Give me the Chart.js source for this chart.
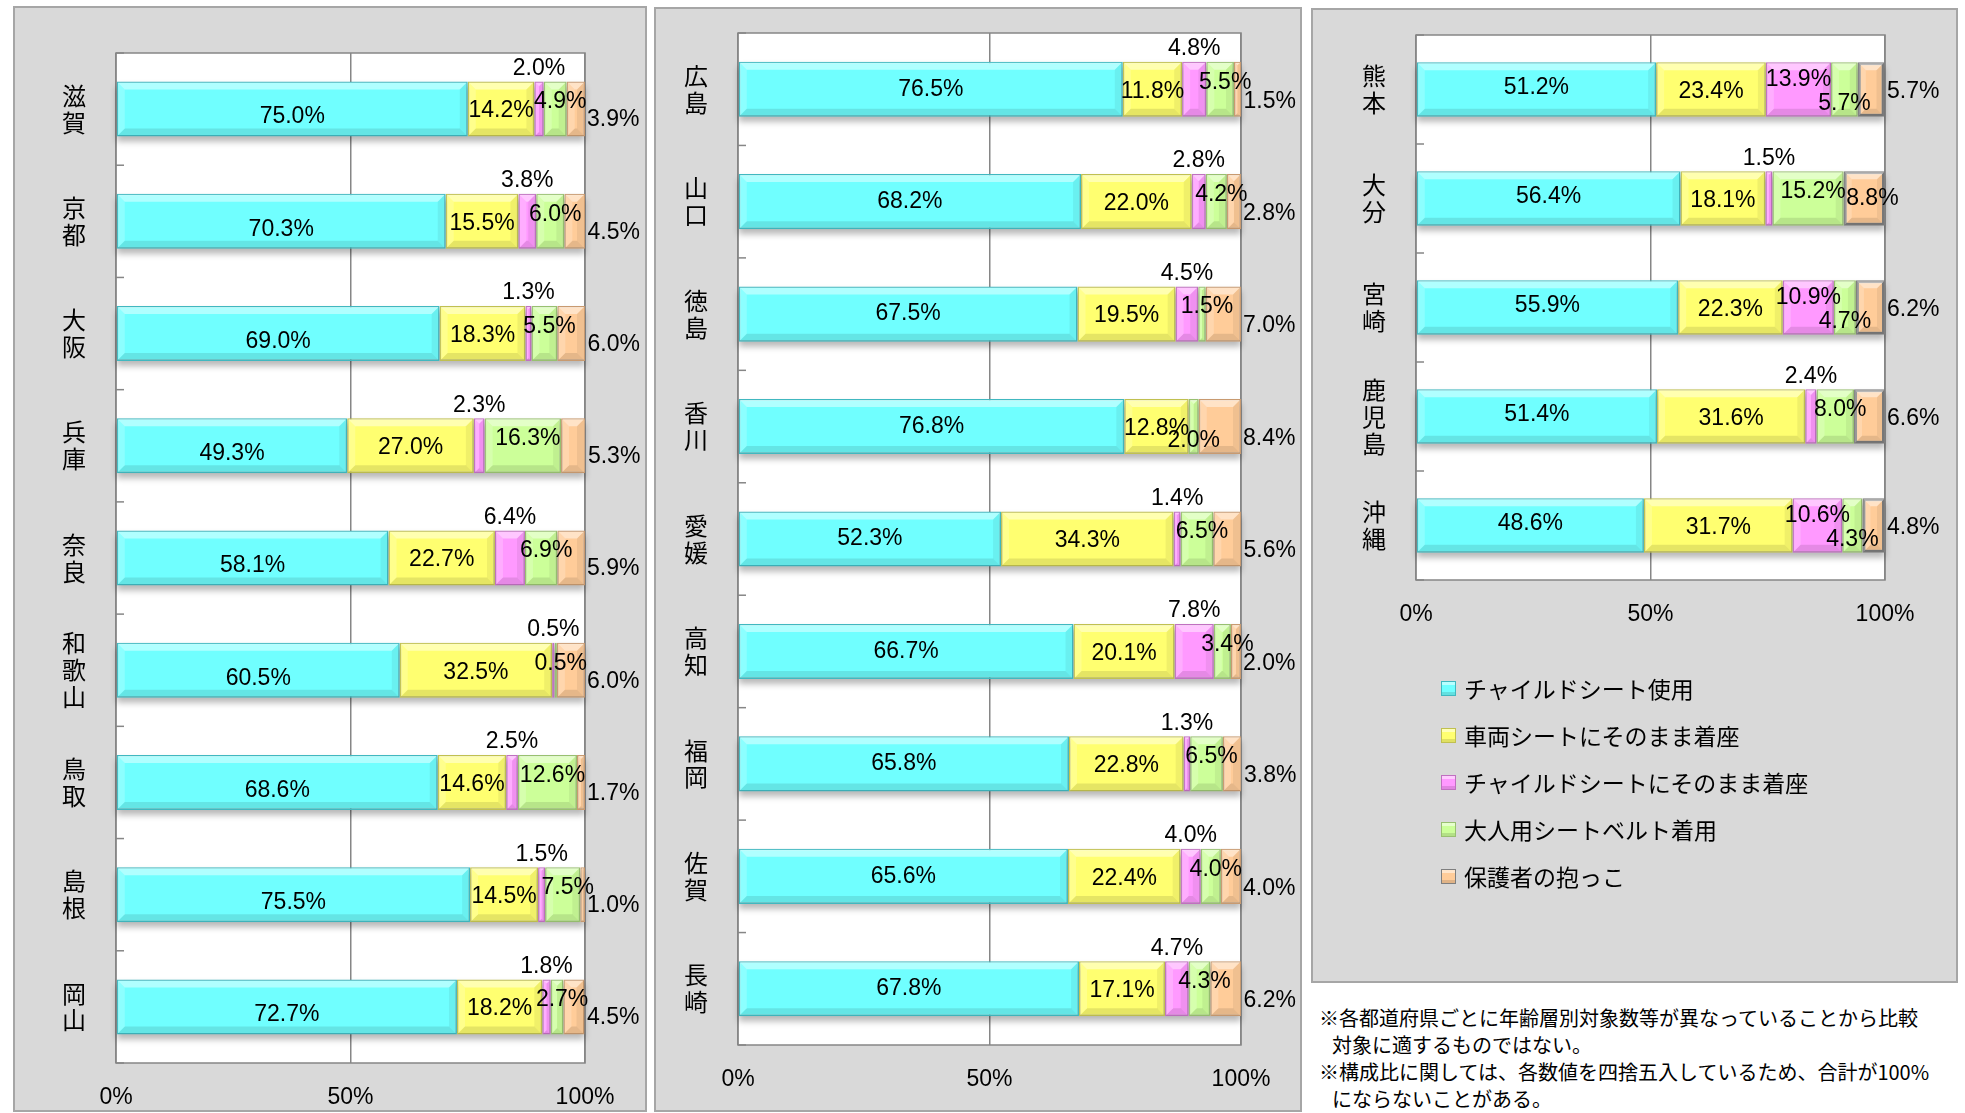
<!DOCTYPE html>
<html lang="ja">
<head>
<meta charset="utf-8">
<title>チャイルドシート使用状況（都道府県別）</title>
<script src="https://cdn.jsdelivr.net/npm/chart.js@4/dist/chart.umd.min.js"></script>
<style>
    body { margin: 0; width: 1965px; height: 1113px; background: #fff; overflow: hidden; position: relative;
           font-family: "Noto Sans CJK JP", "Liberation Sans", sans-serif; }
    .panel { position: absolute; background: #d9d9d9; border: 2px solid #a6a6a6; box-sizing: border-box; }
    .plot { position: absolute; inset: 0; }
    #p1 { left: 13px; top: 6px; width: 634px; height: 1106px; }
    #p2 { left: 654px; top: 7px; width: 648px; height: 1105px; }
    #p3 { left: 1311px; top: 8px; width: 647px; height: 975px; }
    #legend { position: absolute; left: 128px; top: 655px; margin: 0; padding: 0; list-style: none; }
    #legend li { height: 47px; line-height: 47px; font-size: 23px; color: #000; display: flex; align-items: center; }
    #legend i { display: inline-block; width: 13px; height: 13px; margin-right: 8px; border: 1px solid;
                box-shadow: inset 0 3px 0 rgba(255,255,255,0.5), inset 0 -3px 0 rgba(0,0,0,0.12); }
    #note { position: absolute; left: 1319px; top: 1004px; font-size: 20px; line-height: 27px; color: #000; }
    #note .cont { padding-left: 13px; }
</style>
</head>
<body>
<div class="panel" id="p1"><div class="plot"><canvas id="c1"></canvas></div></div>
<div class="panel" id="p2"><div class="plot"><canvas id="c2"></canvas></div></div>
<div class="panel" id="p3"><div class="plot"><canvas id="c3"></canvas></div><ul id="legend"></ul></div>
<div id="note"></div>

<script>
const seriesNames = ['チャイルドシート使用', '車両シートにそのまま着座', 'チャイルドシートにそのまま着座', '大人用シートベルト着用', '保護者の抱っこ']
const xTicks = [0, 50, 100]

// 滋賀〜岡山
const prefs1 = ['滋賀', '京都', '大阪', '兵庫', '奈良', '和歌山', '鳥取', '島根', '岡山']
const childSeat1 = [75.0, 70.3, 69.0, 49.3, 58.1, 60.5, 68.6, 75.5, 72.7]
const vehicleSeat1 = [14.2, 15.5, 18.3, 27.0, 22.7, 32.5, 14.6, 14.5, 18.2]
const childSeatOnly1 = [2.0, 3.8, 1.3, 2.3, 6.4, 0.5, 2.5, 1.5, 1.8]
const adultBelt1 = [4.9, 6.0, 5.5, 16.3, 6.9, 0.5, 12.6, 7.5, 2.7]
const heldByParent1 = [3.9, 4.5, 6.0, 5.3, 5.9, 6.0, 1.7, 1.0, 4.5]

// 広島〜長崎
const prefs2 = ['広島', '山口', '徳島', '香川', '愛媛', '高知', '福岡', '佐賀', '長崎']
const childSeat2 = [76.5, 68.2, 67.5, 76.8, 52.3, 66.7, 65.8, 65.6, 67.8]
const vehicleSeat2 = [11.8, 22.0, 19.5, 12.8, 34.3, 20.1, 22.8, 22.4, 17.1]
const childSeatOnly2 = [4.8, 2.8, 4.5, null, 1.4, 7.8, 1.3, 4.0, 4.7]
const adultBelt2 = [5.5, 4.2, 1.5, 2.0, 6.5, 3.4, 6.5, 4.0, 4.3]
const heldByParent2 = [1.5, 2.8, 7.0, 8.4, 5.6, 2.0, 3.8, 4.0, 6.2]

// 熊本〜沖縄
const prefs3 = ['熊本', '大分', '宮崎', '鹿児島', '沖縄']
const childSeat3 = [51.2, 56.4, 55.9, 51.4, 48.6]
const vehicleSeat3 = [23.4, 18.1, 22.3, 31.6, 31.7]
const childSeatOnly3 = [13.9, 1.5, 10.9, 2.4, 10.6]
const adultBelt3 = [5.7, 15.2, 4.7, 8.0, 4.3]
const heldByParent3 = [5.7, 8.8, 6.2, 6.6, 4.8]

const notes = [
    ['※各都道府県ごとに年齢層別対象数等が異なっていることから比較', '対象に適するものではない。'],
    ['※構成比に関しては、各数値を四捨五入しているため、合計が100%', 'にならないことがある。'],
]

;(() => {
    const fills = ['#70ffff', '#ffff70', '#ff99ff', '#ccff99', '#ffcc99']
    const edges = ['#40b8c0', '#c0c050', '#c070c0', '#98c070', '#c89a70']
    const numFont = '23px "Liberation Sans", Arial, sans-serif'

    // white plot area, frame, 50% line is the x grid, small inner ticks on the category axis
    const plotFrame = {
        id: 'plotFrame',
        beforeDraw: (chart) => {
            const { ctx, chartArea: a } = chart
            ctx.save()
            ctx.fillStyle = '#fff'
            ctx.fillRect(a.left, a.top, a.right - a.left, a.bottom - a.top)
            ctx.restore()
        },
        beforeDatasetsDraw: (chart) => {
            const { ctx, chartArea: a } = chart
            const y = chart.scales.y
            ctx.save()
            ctx.strokeStyle = '#868686'
            ctx.lineWidth = 1.5
            ctx.strokeRect(a.left, a.top, a.right - a.left, a.bottom - a.top)
            for (let i = 0; i <= chart.data.labels.length; i++) {
                const py = y.getPixelForValue(i - 0.5)
                ctx.beginPath()
                ctx.moveTo(a.left, py)
                ctx.lineTo(a.left + 8, py)
                ctx.stroke()
            }
            // soft shadow under each stacked bar
            const first = chart.getDatasetMeta(0).data
            const last = chart.getDatasetMeta(chart.data.datasets.length - 1).data
            ctx.filter = 'blur(3px)'
            ctx.fillStyle = 'rgba(0,0,0,0.28)'
            first.forEach((bar, i) => {
                const p = bar.getProps(['y', 'base', 'height'], true)
                const end = Math.min(last[i].getProps(['x'], true).x, a.right)
                ctx.fillRect(p.base, p.y - p.height / 2 + 5, end - p.base, p.height)
            })
            ctx.restore()
        },
    }

    const bevelAndLabels = {
        id: 'segLabels',
        afterDatasetsDraw: (chart, args, opts) => {
            const { ctx, chartArea: a } = chart
            const sets = chart.data.datasets
            ctx.save()
            // bevel facets
            sets.forEach((ds, di) => {
                chart.getDatasetMeta(di).data.forEach((bar, i) => {
                    if (!ds.data[i]) return
                    const p = bar.getProps(['x', 'y', 'base', 'height'], true)
                    const l = p.base + 1, r = Math.min(p.x, a.right) - 1
                    const t = p.y - p.height / 2 + 1, b = p.y + p.height / 2 - 1
                    const e = Math.max(0, Math.min(7, (r - l) / 2))
                    const facet = (pts, c) => {
                        ctx.beginPath()
                        pts.forEach(([px, py], k) => (k ? ctx.lineTo(px, py) : ctx.moveTo(px, py)))
                        ctx.closePath()
                        ctx.fillStyle = c
                        ctx.fill()
                    }
                    facet([[l, t], [r, t], [r - e, t + e], [l + e, t + e]], 'rgba(255,255,255,0.45)')
                    facet([[l, b], [r, b], [r - e, b - e], [l + e, b - e]], 'rgba(0,0,0,0.1)')
                    facet([[l, t], [l + e, t + e], [l + e, b - e], [l, b]], 'rgba(255,255,255,0.2)')
                    facet([[r, t], [r - e, t + e], [r - e, b - e], [r, b]], 'rgba(0,0,0,0.06)')
                })
            })
            // value labels
            ctx.font = numFont
            ctx.fillStyle = '#000'
            ctx.textBaseline = 'middle'
            sets.forEach((ds, di) => {
                chart.getDatasetMeta(di).data.forEach((bar, i) => {
                    const v = ds.data[i]
                    if (!v) return
                    const p = bar.getProps(['x', 'y', 'base', 'height'], true)
                    const mid = (p.x + p.base) / 2
                    const top = p.y - p.height / 2
                    const pink = sets[2].data[i]
                    let tx = mid, ty = p.y, align = 'center'
                    if (di === 0) ty = p.y + opts.firstDy
                    else if (di === 1) ty = p.y + 2
                    else if (di === 2) ty = v >= 10 ? p.y - 10 : top - 13
                    else if (di === 3) {
                        if (!pink || pink >= 10) ty = p.y + 14
                        else { tx = mid + 5; ty = p.y - 7 }
                    } else if (v >= 8.5) {
                        tx = mid + 8
                    } else {
                        tx = Math.max(p.x, a.right) + 2
                        ty = p.y + opts.lastDy
                        align = 'left'
                    }
                    ctx.textAlign = align
                    ctx.fillText(`${v.toFixed(1)}%`, tx, ty)
                })
            })
            ctx.restore()
        },
    }

    const makeChart = (id, names, series, look) => {
        new Chart(document.getElementById(id), {
            type: 'bar',
            data: {
                labels: names.map((n) => Array.from(n)),
                datasets: series.map((data, k) => ({
                    label: seriesNames[k],
                    data,
                    backgroundColor: fills[k],
                    borderColor: k === 4 && look.heldEdge ? look.heldEdge : edges[k],
                    borderWidth: k === 4 && look.heldEdge ? 3 : 1.5,
                    borderSkipped: false,
                    categoryPercentage: 1,
                    barPercentage: look.barPct,
                })),
            },
            options: {
                indexAxis: 'y',
                responsive: true,
                maintainAspectRatio: false,
                animation: false,
                layout: { padding: { left: 0, right: look.right, top: look.top, bottom: 0 } },
                scales: {
                    x: {
                        stacked: true,
                        min: 0,
                        max: 100,
                        afterBuildTicks: (s) => { s.ticks = xTicks.map((value) => ({ value })) },
                        ticks: { callback: (v) => `${v}%`, color: '#000', font: { family: '"Liberation Sans", Arial', size: 23 }, padding: 21 },
                        grid: { color: '#868686', lineWidth: 1.5, drawTicks: false },
                        border: { display: false },
                        afterFit: (s) => { s.height = look.axisH },
                    },
                    y: {
                        stacked: true,
                        grid: { display: false, drawTicks: false },
                        border: { display: false },
                        ticks: { color: '#000', font: { family: '"Noto Sans CJK JP"', size: 24, lineHeight: 1.12 }, padding: 30 },
                        afterFit: (s) => {
                            s.width = look.axisW
                            s.paddingTop = 0
                            s.paddingBottom = 0
                        },
                    },
                },
                plugins: {
                    legend: { display: false },
                    tooltip: { enabled: false },
                    segLabels: { firstDy: look.firstDy, lastDy: look.lastDy },
                },
            },
            plugins: [plotFrame, bevelAndLabels],
        })
    }

    makeChart('c1', prefs1, [childSeat1, vehicleSeat1, childSeatOnly1, adultBelt1, heldByParent1],
        { axisW: 101, axisH: 47, right: 60, top: 45, barPct: 0.49, firstDy: 8, lastDy: 11 })
    makeChart('c2', prefs2, [childSeat2, vehicleSeat2, childSeatOnly2, adultBelt2, heldByParent2],
        { axisW: 82, axisH: 65, right: 59, top: 24, barPct: 0.49, firstDy: 0, lastDy: 12 })
    makeChart('c3', prefs3, [childSeat3, vehicleSeat3, childSeatOnly3, adultBelt3, heldByParent3],
        { axisW: 103, axisH: 401, right: 71, top: 25, barPct: 0.5, firstDy: -2, lastDy: 2, heldEdge: '#7f7f7f' })

    const legend = document.getElementById('legend')
    seriesNames.forEach((name, k) => {
        legend.insertAdjacentHTML('beforeend',
            `<li><i style="background:${fills[k]};border-color:${k === 4 ? '#7f7f7f' : edges[k]}"></i>${name}</li>`)
    })

    const note = document.getElementById('note')
    notes.forEach(([head, rest]) => {
        note.insertAdjacentHTML('beforeend', `<div>${head}</div><div class="cont">${rest}</div>`)
    })
})()
</script>
</body>
</html>
